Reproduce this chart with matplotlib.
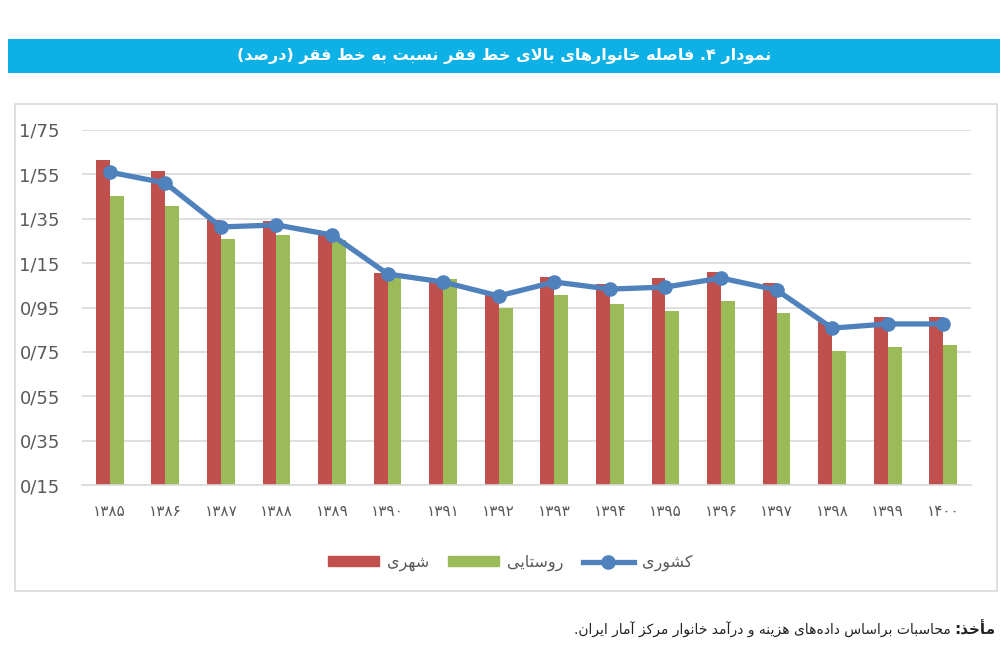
import re
import matplotlib
matplotlib.use("Agg")
import matplotlib.pyplot as plt
from matplotlib.patches import Rectangle, Patch
from matplotlib.lines import Line2D

# ---------------- data ----------------
years = ['۱۳۸۵', '۱۳۸۶', '۱۳۸۷', '۱۳۸۸', '۱۳۸۹', '۱۳۹۰', '۱۳۹۱', '۱۳۹۲',
         '۱۳۹۳', '۱۳۹۴', '۱۳۹۵', '۱۳۹۶', '۱۳۹۷', '۱۳۹۸', '۱۳۹۹', '۱۴۰۰']
urban = [1.615, 1.565, 1.345, 1.340, 1.286, 1.105, 1.065, 1.006,
         1.087, 1.056, 1.083, 1.110, 1.060, 0.885, 0.907, 0.907]
rural = [1.452, 1.407, 1.259, 1.277, 1.254, 1.087, 1.078, 0.948,
         1.006, 0.966, 0.934, 0.979, 0.925, 0.754, 0.772, 0.781]
national = [1.560, 1.511, 1.313, 1.322, 1.277, 1.101, 1.065, 1.002,
            1.065, 1.033, 1.042, 1.083, 1.029, 0.857, 0.876, 0.876]
yticks = [0.15, 0.35, 0.55, 0.75, 0.95, 1.15, 1.35, 1.55, 1.75]
ytick_labels = ['0/15', '0/35', '0/55', '0/75', '0/95', '1/15', '1/35', '1/55', '1/75']
series_names = ['شهری', 'روستایی', 'کشوری']
title_text = 'نمودار ۴. فاصله خانوارهای بالای خط فقر نسبت به خط فقر (درصد)'
source_label = 'مأخذ:'
source_text = 'محاسبات براساس داده\u200cهای هزینه و درآمد خانوار مرکز آمار ایران.'

# ---------------- simple Persian shaping + bidi ----------------
F = {
    'ا': (0xFE8D, 0xFE8E, None, None), 'آ': (0xFE81, 0xFE82, None, None),
    'أ': (0xFE83, 0xFE84, None, None), 'ب': (0xFE8F, 0xFE90, 0xFE91, 0xFE92),
    'پ': (0xFB56, 0xFB57, 0xFB58, 0xFB59), 'ت': (0xFE95, 0xFE96, 0xFE97, 0xFE98),
    'ث': (0xFE99, 0xFE9A, 0xFE9B, 0xFE9C), 'ج': (0xFE9D, 0xFE9E, 0xFE9F, 0xFEA0),
    'چ': (0xFB7A, 0xFB7B, 0xFB7C, 0xFB7D), 'ح': (0xFEA1, 0xFEA2, 0xFEA3, 0xFEA4),
    'خ': (0xFEA5, 0xFEA6, 0xFEA7, 0xFEA8), 'د': (0xFEA9, 0xFEAA, None, None),
    'ذ': (0xFEAB, 0xFEAC, None, None), 'ر': (0xFEAD, 0xFEAE, None, None),
    'ز': (0xFEAF, 0xFEB0, None, None), 'ژ': (0xFB8A, 0xFB8B, None, None),
    'س': (0xFEB1, 0xFEB2, 0xFEB3, 0xFEB4), 'ش': (0xFEB5, 0xFEB6, 0xFEB7, 0xFEB8),
    'ص': (0xFEB9, 0xFEBA, 0xFEBB, 0xFEBC), 'ض': (0xFEBD, 0xFEBE, 0xFEBF, 0xFEC0),
    'ط': (0xFEC1, 0xFEC2, 0xFEC3, 0xFEC4), 'ظ': (0xFEC5, 0xFEC6, 0xFEC7, 0xFEC8),
    'ع': (0xFEC9, 0xFECA, 0xFECB, 0xFECC), 'غ': (0xFECD, 0xFECE, 0xFECF, 0xFED0),
    'ف': (0xFED1, 0xFED2, 0xFED3, 0xFED4), 'ق': (0xFED5, 0xFED6, 0xFED7, 0xFED8),
    'ک': (0xFB8E, 0xFB8F, 0xFB90, 0xFB91), 'گ': (0xFB92, 0xFB93, 0xFB94, 0xFB95),
    'ل': (0xFEDD, 0xFEDE, 0xFEDF, 0xFEE0), 'م': (0xFEE1, 0xFEE2, 0xFEE3, 0xFEE4),
    'ن': (0xFEE5, 0xFEE6, 0xFEE7, 0xFEE8), 'و': (0xFEED, 0xFEEE, None, None),
    'ه': (0xFEE9, 0xFEEA, 0xFEEB, 0xFEEC), 'ی': (0xFBFC, 0xFBFD, 0xFBFE, 0xFBFF),
}
LAMALEF = {'ا': (0xFEFB, 0xFEFC), 'آ': (0xFEF5, 0xFEF6), 'أ': (0xFEF7, 0xFEF8)}


def shape(s):
    out = []
    i, n = 0, len(s)
    while i < n:
        c = s[i]
        if c not in F:
            if c != '\u200c':
                out.append(c)
            i += 1
            continue
        prev = s[i - 1] if i > 0 else None
        pc = prev in F and F[prev][2] is not None
        nxt = s[i + 1] if i + 1 < n else None
        if c == 'ل' and nxt in LAMALEF:
            out.append(chr(LAMALEF[nxt][1 if pc else 0]))
            i += 2
            continue
        nc = F[c][2] is not None and nxt in F
        iso, fin, ini, med = F[c]
        if pc and nc:
            g = med
        elif pc:
            g = fin
        elif nc:
            g = ini
        else:
            g = iso
        out.append(chr(g))
        i += 1
    return ''.join(out)


def rtl(s):
    t = shape(s)
    toks = re.findall(r'[0-9\u06F0-\u06F9]+|.', t)
    mirror = {'(': ')', ')': '('}
    return ''.join(mirror.get(x, x) for x in reversed(toks))


plt.rcParams['font.family'] = ['DejaVu Sans']

W, H = 1007, 645
fig = plt.figure(figsize=(W / 100, H / 100), dpi=100)
fig.patch.set_facecolor('white')


def fx(px):
    return px / W


def fy(py):
    return 1 - py / H


# title banner
fig.patches.append(Rectangle((fx(8), fy(73)), fx(1000) - fx(8), fy(39) - fy(73),
                             transform=fig.transFigure, facecolor='#0DB1E6',
                             edgecolor='none', zorder=0))
fig.text(fx(504), fy(56), rtl(title_text), color='white', fontsize=11.5,
         fontweight='bold', ha='center', va='center')

# chart frame
fig.patches.append(Rectangle((fx(15), fy(591)), fx(997) - fx(15), fy(104) - fy(591),
                             transform=fig.transFigure, facecolor='none',
                             edgecolor='#D9D9D9', lw=1.2, zorder=0))

ax = fig.add_axes([fx(82), fy(485), fx(971) - fx(82), fy(130) - fy(485)])
x = list(range(len(years)))
bw = 0.25
ax.bar([v - bw / 2 for v in x], [u - 0.15 for u in urban], bottom=0.15, width=bw,
       color='#C0504D', zorder=2)
ax.bar([v + bw / 2 for v in x], [r - 0.15 for r in rural], bottom=0.15, width=bw,
       color='#9BBB59', zorder=2)
ax.plot(x, national, color='#4F81BD', lw=3.8, marker='o', markersize=9.5,
        zorder=3, solid_capstyle='round')

ax.set_xlim(-0.5, len(years) - 0.5)
ax.set_ylim(0.15, 1.75)
ax.set_yticks(yticks)
ax.set_yticklabels(ytick_labels)
ax.set_xticks(x)
ax.set_xticklabels(years)
ax.tick_params(axis='both', length=0, colors='#595959')
ax.tick_params(axis='y', labelsize=13, pad=16)
ax.tick_params(axis='x', labelsize=11, pad=14)
ax.grid(axis='y', color='#D9D9D9', lw=1.2, zorder=0)
ax.set_axisbelow(True)
for sp in ['top', 'right', 'left']:
    ax.spines[sp].set_visible(False)
ax.spines['bottom'].set_color('#D9D9D9')
ax.spines['bottom'].set_linewidth(1.2)

handles = [Patch(color='#C0504D'), Patch(color='#9BBB59'),
           Line2D([0], [0], color='#4F81BD', lw=3.8, marker='o', markersize=9.5)]
fig.legend(handles, [rtl(s) for s in series_names], loc='center',
           bbox_to_anchor=(fx(510), fy(563)), ncol=3, frameon=False,
           fontsize=11.5, handlelength=3.2, handleheight=0.6, handletextpad=0.5,
           columnspacing=1.2, labelcolor='#595959')

t1 = fig.text(fx(995), fy(630), rtl(source_label), fontsize=11,
              fontweight='bold', ha='right', va='center', color='#222222')
ax.annotate(rtl(source_text), xy=(0, 0.5), xycoords=t1, xytext=(-2, 0),
            textcoords='offset points', fontsize=10, ha='right', va='center',
            color='#222222', annotation_clip=False)

fig.savefig('out.png', dpi=100)
